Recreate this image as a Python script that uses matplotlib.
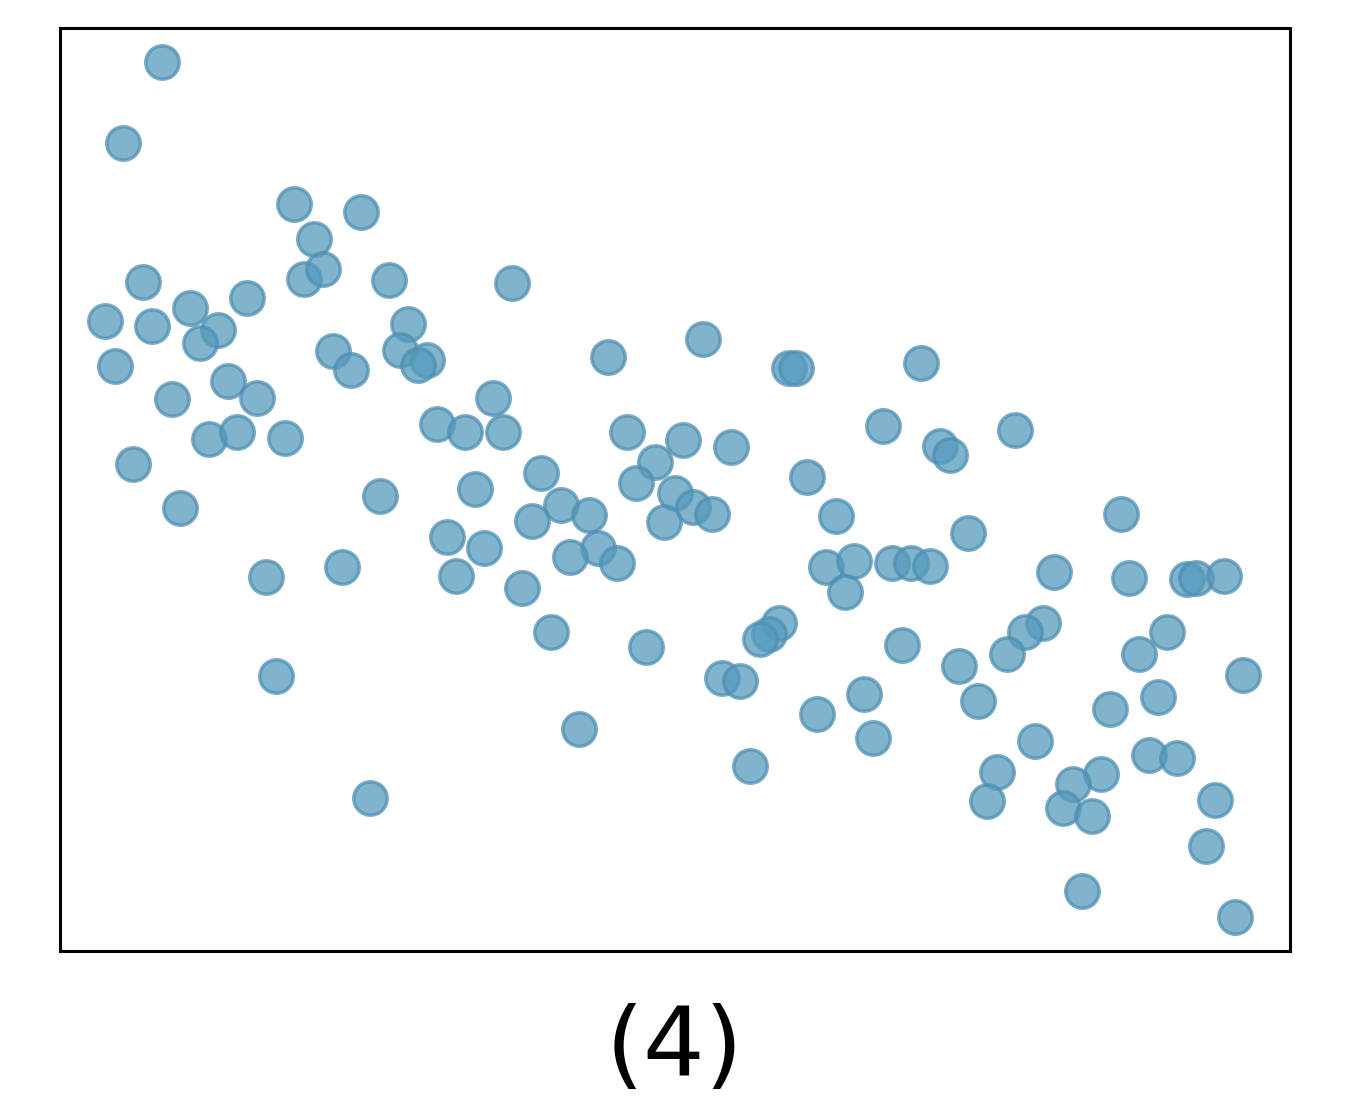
import matplotlib
matplotlib.use("Agg")
import matplotlib.pyplot as plt
import numpy as np

# point positions, arbitrary units (panel has no ticks)
x = [102, 63, 234, 301, 254, 244, 263, 83, 329, 452,
     187, 130, 45, 92, 158, 140, 348, 273, 340, 367,
     358, 55, 291, 168, 112, 197, 643, 548, 729, 736,
     861, 433, 377, 405, 443, 149, 177, 225, 567, 623,
     671, 823, 955, 880, 890, 73, 481, 595, 747, 415,
     576, 320, 120, 501, 529, 615, 633, 652, 472, 604,
     776, 1061, 908, 387, 424, 538, 510, 557, 282, 766,
     794, 832, 851, 870, 994, 1069, 1127, 1136, 1164, 206,
     396, 462, 785, 719, 709, 700, 983, 965, 1107, 491,
     586, 842, 947, 1079, 899, 1183, 216, 662, 680, 804,
     1098, 918, 1050, 757, 519, 813, 975, 1089, 1117, 690,
     937, 1041, 1013, 310, 927, 1003, 1032, 1155, 1146, 1022,
     1175]
y = [889, 808, 747, 739, 712, 672, 682, 669, 671, 668,
     653, 643, 630, 625, 621, 608, 627, 600, 601, 591,
     586, 585, 581, 570, 552, 553, 612, 594, 583, 583,
     588, 553, 527, 519, 519, 512, 519, 513, 519, 511,
     504, 525, 521, 505, 496, 487, 478, 489, 474, 462,
     468, 455, 443, 446, 436, 458, 444, 437, 430, 429,
     435, 437, 418, 414, 403, 403, 394, 388, 384, 384,
     390, 388, 388, 385, 379, 373, 372, 373, 375, 374,
     375, 363, 359, 328, 317, 312, 328, 319, 319, 319,
     304, 306, 297, 297, 285, 276, 275, 273, 270, 257,
     254, 250, 242, 237, 222, 213, 210, 196, 193, 185,
     179, 177, 167, 153, 150, 143, 135, 151, 105, 60,
     34]
panel_label = "(4)"

fig = plt.figure(figsize=(13.5, 11.09), dpi=100)
ax = fig.add_axes([0.0444, 0.1425, 0.9111, 0.8323])

ax.scatter(x, y, s=580, color="#569BBD", alpha=0.75,
           edgecolor="#4F8FB3", linewidth=2.5, zorder=3)

ax.set_xlim(0, 1230)
ax.set_ylim(0, 923)
ax.set_xticks([])
ax.set_yticks([])
for sp in ax.spines.values():
    sp.set_linewidth(2.2)
    sp.set_color("black")

fig.text(0.5, 0.054, panel_label, ha="center", va="center", fontsize=70)

fig.savefig("out.png", dpi=100)
